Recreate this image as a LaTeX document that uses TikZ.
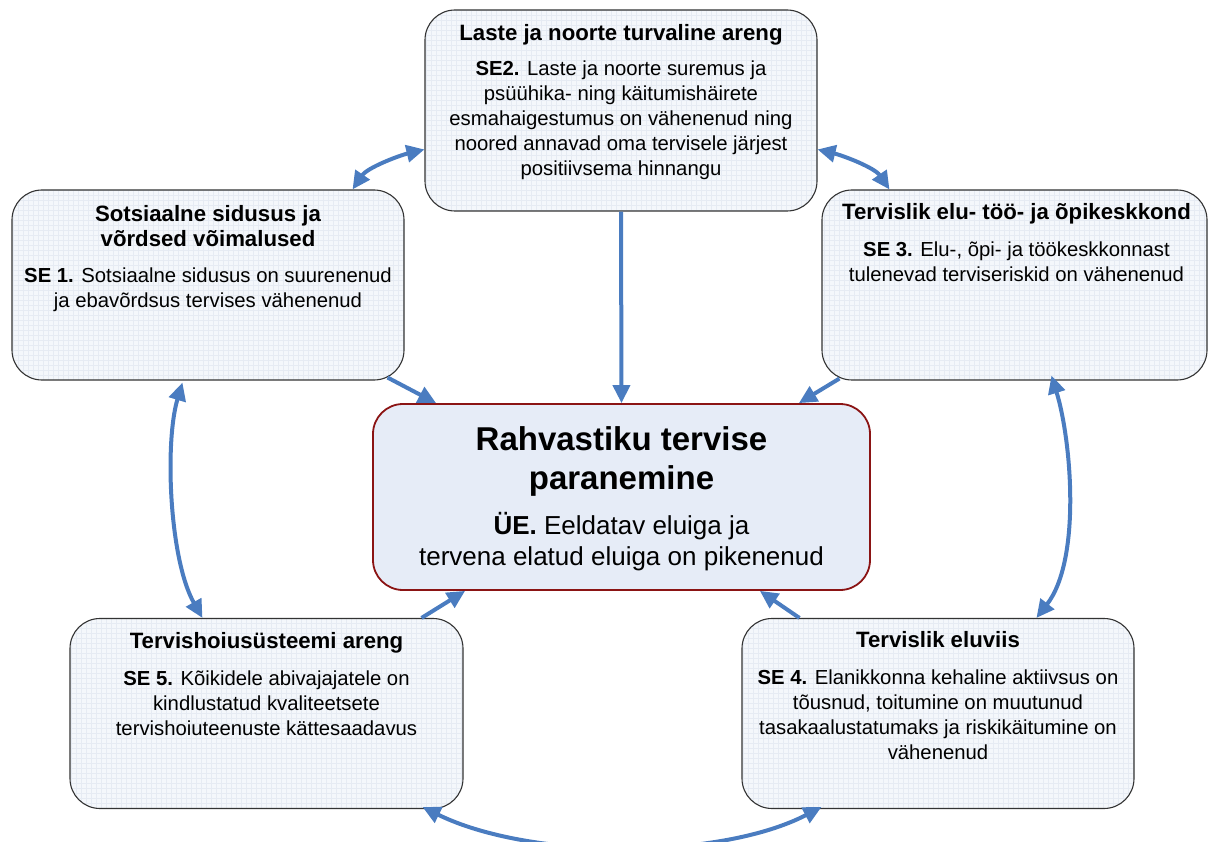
\documentclass[tikz,border=0pt]{standalone}
\usepackage{fontspec}
\setmainfont{Liberation Sans}
\usetikzlibrary{arrows.meta,calc}
\definecolor{arrowblue}{HTML}{4A7CC0}
\definecolor{boxfill}{HTML}{F4F7FB}
\definecolor{gridc}{HTML}{E6EBF3}
\definecolor{centerfill}{HTML}{E6ECF7}
\definecolor{centerborder}{HTML}{8B1414}
\newcommand\mlines[1]{\vtop{\halign{\hfil##\hfil\cr#1\crcr}}}
\begin{document}
\begin{tikzpicture}[x=1pt,y=-1pt,
  box/.style={draw=black!80, line width=1.1pt, rounded corners=30pt, fill=boxfill, inner sep=0pt,
    path picture={\draw[gridc, line width=0.3pt] (path picture bounding box.south west) grid[step=5pt] (path picture bounding box.north east);}},
  centerbox/.style={draw=centerborder, line width=1.8pt, rounded corners=30pt, fill=centerfill, inner sep=0pt},
  titletext/.style={anchor=base, inner sep=0pt, font=\fontsize{22.2}{25}\selectfont\bfseries},
  bodytext/.style={anchor=base, inner sep=0pt, font=\fontsize{20.3}{25}\selectfont},
  ctitle/.style={anchor=base, inner sep=0pt, font=\fontsize{33}{39}\selectfont\bfseries},
  cbody/.style={anchor=base, inner sep=0pt, font=\fontsize{26}{31}\selectfont},
  arr/.style={draw=arrowblue, line width=4pt, -{Triangle[length=18pt,width=17pt]}},
  arrboth/.style={draw=arrowblue, line width=4pt, {Triangle[length=18pt,width=17pt]}-{Triangle[length=18pt,width=17pt]}}
]
\useasboundingbox (0,0) rectangle (1208,842);

% boxes
\node[box, minimum width=392pt, minimum height=201pt] (T) at (621,110.5) {};
\node[box, minimum width=392pt, minimum height=190pt] (L) at (208,285) {};
\node[box, minimum width=385pt, minimum height=190pt] (R) at (1014.5,285) {};
\node[centerbox, minimum width=497pt, minimum height=186pt] (C) at (621.5,497) {};
\node[box, minimum width=393pt, minimum height=190pt] (BL) at (266.5,713.5) {};
\node[box, minimum width=392pt, minimum height=190pt] (BR) at (938,713.5) {};

% texts
\node[titletext] (Tt) at ($(T.north)+(0,31)$) {\mlines{Laste ja noorte turvaline areng}};
\node[bodytext] (Tb) at ($(T.north)+(0,66)$) {\mlines{\textbf{SE2.} Laste ja noorte suremus ja\cr psüühika- ning käitumishäirete\cr esmahaigestumus on vähenenud ning\cr noored annavad oma tervisele järjest\cr positiivsema hinnangu}};

\node[titletext] (Lt) at ($(L.north)+(0,32)$) {\mlines{Sotsiaalne sidusus ja\cr võrdsed võimalused}};
\node[bodytext] (Lb) at ($(L.north)+(0,93)$) {\mlines{\textbf{SE 1.} Sotsiaalne sidusus on suurenenud\cr ja ebavõrdsus tervises vähenenud}};

\node[titletext] (Rt) at ($(R.north)+(2,30)$) {\mlines{Tervislik elu- töö- ja õpikeskkond}};
\node[bodytext] (Rb) at ($(R.north)+(2,67)$) {\mlines{\textbf{SE 3.} Elu-, õpi- ja töökeskkonnast\cr tulenevad terviseriskid on vähenenud}};

\node[ctitle] (Ct) at ($(C.north)+(0,47)$) {\mlines{Rahvastiku tervise\cr paranemine}};
\node[cbody] (Cb) at ($(C.north)+(0,131)$) {\mlines{\textbf{ÜE.} Eeldatav eluiga ja\cr tervena elatud eluiga on pikenenud}};

\node[titletext] (BLt) at ($(BL.north)+(0,31)$) {\mlines{Tervishoiusüsteemi areng}};
\node[bodytext] (BLb) at ($(BL.north)+(0,68)$) {\mlines{\textbf{SE 5.} Kõikidele abivajajatele on\cr kindlustatud kvaliteetsete\cr tervishoiuteenuste kättesaadavus}};

\node[titletext] (BRt) at ($(BR.north)+(0,30)$) {\mlines{Tervislik eluviis}};
\node[bodytext] (BRb) at ($(BR.north)+(0,67)$) {\mlines{\textbf{SE 4.} Elanikkonna kehaline aktiivsus on\cr tõusnud, toitumine on muutunud\cr tasakaalustatumaks ja riskikäitumine on\cr vähenenud}};

% arrows into centre
\draw[arr] (T.south) -- (C.north);
\draw[arr] ($(L.south east)+(-17,-3)$) -- ($(C.north west)+(64,0)$);
\draw[arr] ($(R.south west)+(18,-2)$) -- ($(C.north east)+(-72,0)$);
\draw[arr] ($(BL.north east)+(-42,0)$) -- ($(C.south west)+(93,0)$);
\draw[arr] ($(BR.north west)+(58,0)$) -- ($(C.south east)+(-111,0)$);

% ring of double arrows
\draw[arrboth] ($(L.north east)+(-52,0)$) .. controls +(15,-22) and +(-25,6) .. ($(T.north west)+(0,140)$);
\draw[arrboth] ($(T.north east)+(0,140)$) .. controls +(25,6) and +(-15,-22) .. ($(R.north west)+(68,0)$);
\draw[arrboth] ($(L.south west)+(171,2)$) .. controls +(-18,60) and +(-33,-58) .. ($(BL.north west)+(133,0)$);
\draw[arrboth] ($(R.south west)+(230,-5)$) .. controls +(20,65) and +(45,-58) .. ($(BR.north west)+(295,0)$);
\draw[arrboth] ($(BL.south east)+(-41,-2)$) .. controls +(108,53) and +(-102,53) .. ($(BR.south west)+(80,-2)$);
\end{tikzpicture}
\end{document}
